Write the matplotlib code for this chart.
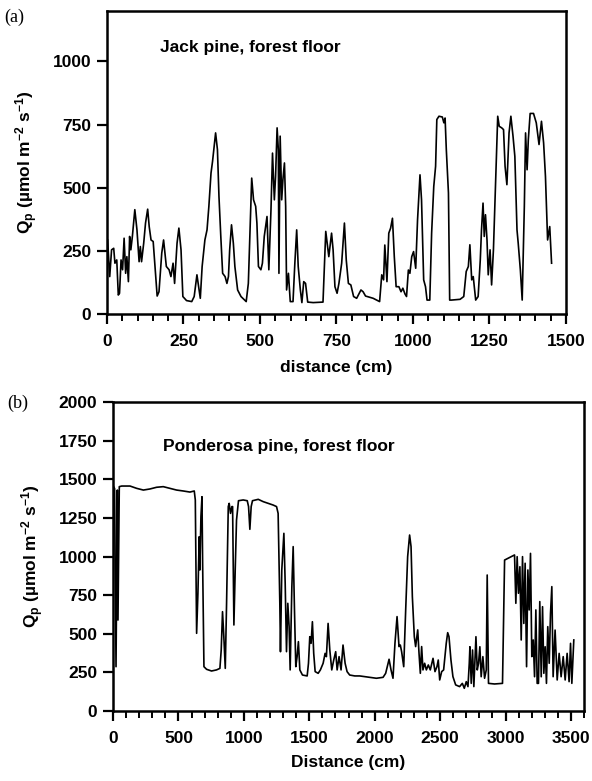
import matplotlib
matplotlib.use("Agg")
import matplotlib.pyplot as plt
from matplotlib.ticker import MultipleLocator

# (a) Jack pine transect: distance (cm), Qp (umol m-2 s-1)
jack_x = [2, 9, 15, 22, 26, 32, 37, 41, 46, 51, 56, 61, 65, 70, 74, 78, 83, 91, 98, 105,
          109, 113, 120, 126, 133, 138, 144, 151, 157, 164, 170, 179, 185, 194, 203, 209, 216, 221, 229, 235,
          242, 248, 260, 277, 285, 294, 301, 305, 311, 320, 327, 333, 340, 345, 355, 361, 366, 372, 378, 386,
          392, 397, 401, 407, 413, 418, 427, 438, 455, 462, 467, 473, 479, 486, 490, 495, 503, 508, 514, 523,
          529, 536, 541, 547, 551, 556, 560, 562, 566, 571, 575, 580, 584, 587, 593, 599, 608, 614, 620, 625,
          632, 637, 643, 649, 656, 674, 706, 715, 721, 725, 734, 739, 745, 752, 758, 767, 776, 782, 789, 797,
          806, 816, 830, 837, 845, 859, 870, 881, 891, 898, 904, 908, 915, 921, 927, 933, 939, 945, 954, 961,
          967, 974, 979, 985, 990, 996, 1002, 1009, 1015, 1023, 1028, 1035, 1041, 1046, 1055, 1061, 1068, 1074, 1078, 1085,
          1096, 1101, 1105, 1109, 1116, 1120, 1126, 1154, 1166, 1174, 1181, 1186, 1192, 1197, 1205, 1213, 1220, 1224, 1229, 1233,
          1237, 1242, 1246, 1252, 1257, 1263, 1270, 1277, 1282, 1290, 1296, 1301, 1307, 1314, 1320, 1327, 1333, 1340, 1344, 1351,
          1357, 1364, 1368, 1373, 1377, 1383, 1394, 1403, 1412, 1420, 1427, 1433, 1440, 1447, 1453]
jack_q = [293, 148, 254, 260, 201, 214, 75, 82, 214, 175, 300, 161, 227, 128, 307, 254, 307, 413, 333, 207,
          267, 207, 280, 360, 415, 346, 293, 287, 188, 71, 88, 241, 293, 188, 175, 148, 201, 121, 280, 340,
          254, 69, 53, 49, 69, 155, 95, 62, 188, 293, 333, 426, 558, 604, 717, 651, 465, 307, 161, 148,
          121, 148, 254, 353, 280, 188, 95, 69, 49, 121, 307, 538, 452, 426, 360, 188, 175, 201, 307, 386,
          175, 413, 637, 452, 545, 737, 651, 161, 704, 452, 532, 598, 426, 95, 161, 49, 49, 201, 333, 188,
          95, 45, 128, 121, 47, 45, 47, 327, 267, 227, 320, 254, 108, 82, 121, 201, 360, 214, 121, 115,
          69, 62, 95, 88, 71, 66, 62, 55, 49, 155, 135, 273, 128, 320, 340, 379, 227, 108, 108, 88,
          102, 79, 69, 174, 161, 227, 247, 181, 373, 551, 452, 135, 108, 55, 55, 320, 505, 585, 770, 783,
          780, 757, 776, 651, 479, 55, 55, 58, 69, 168, 188, 274, 135, 148, 55, 69, 214, 333, 439, 307,
          393, 293, 155, 254, 115, 254, 518, 783, 743, 737, 730, 585, 512, 717, 783, 704, 624, 333, 280, 174,
          55, 426, 717, 571, 690, 794, 794, 757, 671, 763, 677, 545, 293, 346, 201]

# (b) Ponderosa pine transect
pond_x = [0, 12, 23, 33, 38, 48, 66, 130, 181, 232, 282, 333, 384, 435, 486, 537, 588, 621, 629, 639,
          649, 659, 664, 672, 680, 685, 695, 715, 753, 791, 817, 827, 837, 847, 858, 868, 881, 888, 898, 909,
          914, 924, 934, 944, 959, 995, 1026, 1036, 1046, 1056, 1066, 1110, 1148, 1186, 1224, 1250, 1262, 1275, 1280, 1290,
          1306, 1316, 1326, 1336, 1346, 1354, 1367, 1377, 1387, 1397, 1407, 1417, 1428, 1448, 1484, 1494, 1504, 1514, 1524, 1534,
          1545, 1568, 1585, 1606, 1621, 1631, 1644, 1657, 1672, 1687, 1702, 1713, 1728, 1743, 1758, 1774, 1789, 1809, 1848, 1886,
          1962, 2013, 2064, 2084, 2110, 2125, 2140, 2155, 2171, 2186, 2196, 2206, 2222, 2237, 2252, 2267, 2278, 2288, 2303, 2313,
          2329, 2339, 2349, 2359, 2369, 2382, 2395, 2410, 2425, 2446, 2461, 2476, 2486, 2497, 2512, 2527, 2547, 2558, 2568, 2583,
          2598, 2619, 2649, 2670, 2685, 2700, 2713, 2723, 2728, 2738, 2748, 2758, 2774, 2784, 2794, 2804, 2814, 2827, 2840, 2853,
          2860, 2870, 2916, 2977, 2993, 3018, 3044, 3069, 3079, 3089, 3099, 3110, 3120, 3130, 3140, 3150, 3161, 3171, 3181, 3191,
          3201, 3212, 3222, 3232, 3242, 3252, 3262, 3273, 3283, 3293, 3303, 3313, 3323, 3334, 3344, 3354, 3364, 3379, 3395, 3410,
          3425, 3441, 3456, 3471, 3486, 3497, 3507, 3522]
pond_q = [1460, 1440, 287, 1430, 589, 1452, 1456, 1456, 1441, 1430, 1437, 1448, 1452, 1441, 1430, 1424, 1417, 1424, 1366, 503,
          762, 1128, 913, 1258, 1387, 956, 287, 270, 259, 266, 276, 395, 643, 481, 276, 697, 1323, 1344, 1279, 1323,
          1323, 557, 913, 1236, 1361, 1366, 1361, 1323, 1176, 1323, 1361, 1370, 1355, 1344, 1333, 1323, 1279, 697, 384, 913,
          1150, 826, 384, 697, 546, 266, 805, 1064, 654, 287, 352, 449, 266, 233, 227, 309, 481, 438, 578, 373,
          255, 244, 266, 309, 373, 352, 567, 395, 266, 330, 384, 266, 352, 266, 427, 309, 255, 233, 227, 227,
          218, 212, 218, 244, 335, 266, 212, 438, 611, 417, 427, 384, 287, 654, 999, 1139, 1064, 740, 481, 417,
          525, 373, 244, 417, 266, 309, 266, 298, 266, 341, 255, 287, 330, 201, 255, 266, 438, 507, 481, 330,
          223, 169, 158, 179, 147, 190, 158, 309, 416, 179, 395, 158, 481, 266, 309, 416, 222, 352, 212, 266,
          880, 179, 175, 179, 977, 988, 999, 1010, 697, 999, 762, 934, 460, 999, 567, 956, 287, 913, 654, 1020,
          352, 460, 222, 654, 179, 179, 708, 222, 675, 244, 416, 179, 546, 309, 632, 805, 222, 524, 201, 373,
          222, 352, 201, 373, 190, 438, 179, 460]

plt.rcParams['font.family'] = ['Liberation Sans', 'DejaVu Sans']
plt.rcParams['font.weight'] = 'bold'
plt.rcParams['axes.labelweight'] = 'bold'
plt.rcParams['mathtext.fontset'] = 'custom'
plt.rcParams['mathtext.rm'] = 'Liberation Sans:bold'
plt.rcParams['mathtext.bf'] = 'Liberation Sans:bold'
plt.rcParams['mathtext.default'] = 'bf'

fig = plt.figure(figsize=(5.92, 7.81), dpi=100)
ax1 = fig.add_axes([0.1807, 0.598, 0.7753, 0.388])
ax2 = fig.add_axes([0.1909, 0.0896, 0.7956, 0.3957])

ylab = r'Q$_p$ (µmol m$^{-2}$ s$^{-1}$)'


def style(ax):
    for s in ax.spines.values():
        s.set_linewidth(1.8)
    ax.tick_params(which='major', direction='out', length=7.2, width=1.6, labelsize=12.5)
    ax.tick_params(axis='x', which='major', pad=7)
    ax.tick_params(axis='y', which='major', pad=4)
    ax.tick_params(which='minor', direction='out', length=5, width=1.4)
    ax.tick_params(axis='y', which='minor', left=False)
    for lab in ax.get_xticklabels() + ax.get_yticklabels():
        lab.set_fontweight('bold')


ax1.plot(jack_x, jack_q, color='black', lw=1.2)
ax1.set_xlim(0, 1500)
ax1.set_ylim(0, 1200)
ax1.set_yticks([0, 250, 500, 750, 1000])
ax1.set_xticks([0, 250, 500, 750, 1000, 1250, 1500])
ax1.xaxis.set_minor_locator(MultipleLocator(50))
ax1.set_xlabel('distance (cm)', fontsize=12.5, fontweight='bold', labelpad=8)
ax1.set_ylabel(ylab, fontsize=12.5, fontweight='bold', labelpad=9)
ax1.text(173, 1055, 'Jack pine, forest floor', fontsize=12.5, fontweight='bold', va='center')
style(ax1)

ax2.plot(pond_x, pond_q, color='black', lw=1.2)
ax2.set_xlim(0, 3600)
ax2.set_ylim(0, 2000)
ax2.set_yticks(range(0, 2001, 250))
ax2.set_xticks(range(0, 3501, 500))
ax2.xaxis.set_minor_locator(MultipleLocator(100))
ax2.set_xlabel('Distance (cm)', fontsize=12.5, fontweight='bold', labelpad=7)
ax2.set_ylabel(ylab, fontsize=12.5, fontweight='bold', labelpad=9)
ax2.text(382, 1715, 'Ponderosa pine, forest floor', fontsize=12.5, fontweight='bold', va='center')
style(ax2)

fig.text(0.008, 0.978, '(a)', family='Liberation Serif', fontsize=13, fontweight='normal', va='center')
fig.text(0.013, 0.484, '(b)', family='Liberation Serif', fontsize=13, fontweight='normal', va='center')

fig.savefig('out.png', dpi=100)
